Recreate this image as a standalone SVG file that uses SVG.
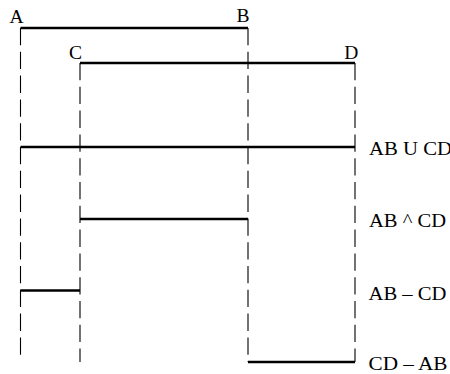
<svg xmlns="http://www.w3.org/2000/svg" width="450" height="374" viewBox="0 0 450 374">
<style>
.seg{stroke:#000;stroke-width:2.3;fill:none}
.guide{stroke:#000;stroke-width:1.1;stroke-dasharray:17.3,6.5;fill:none}
.pt{font-family:"Liberation Serif","Times New Roman",serif;font-size:19.5px;fill:#000;text-anchor:middle}
.lbl{font-family:"Liberation Serif","Times New Roman",serif;font-size:18px;fill:#000}
</style>
<rect width="450" height="374" fill="#fff"/>
<g id="guides">
<line class="guide" x1="20.5" y1="28" x2="20.5" y2="357"/>
<line class="guide" x1="80" y1="63" x2="80" y2="362"/>
<line class="guide" x1="248" y1="28" x2="248" y2="362"/>
<line class="guide" x1="355" y1="63" x2="355" y2="362"/>
</g>
<g id="AB">
<line class="seg" x1="20.5" y1="28" x2="248" y2="28"/>
<text class="pt" x="16.5" y="23">A</text>
<text class="pt" x="243" y="22.3">B</text>
</g>
<g id="CD">
<line class="seg" x1="80" y1="63" x2="355" y2="63"/>
<text class="pt" x="75.5" y="59">C</text>
<text class="pt" x="351.3" y="59">D</text>
</g>
<g id="union">
<line class="seg" x1="20.5" y1="147" x2="355" y2="147"/>
<text class="lbl" x="369" y="155" textLength="83" lengthAdjust="spacingAndGlyphs">AB U CD</text>
</g>
<g id="intersection">
<line class="seg" x1="80" y1="219" x2="248" y2="219"/>
<text class="lbl" x="369" y="227" textLength="77" lengthAdjust="spacingAndGlyphs">AB ^ CD</text>
</g>
<g id="ab-minus-cd">
<line class="seg" x1="20.5" y1="290.5" x2="80" y2="290.5"/>
<text class="lbl" x="368.5" y="300" textLength="78" lengthAdjust="spacingAndGlyphs">AB – CD</text>
</g>
<g id="cd-minus-ab">
<line class="seg" x1="248" y1="362" x2="355" y2="362"/>
<text class="lbl" x="368.5" y="370" textLength="79" lengthAdjust="spacingAndGlyphs">CD – AB</text>
</g>
</svg>
